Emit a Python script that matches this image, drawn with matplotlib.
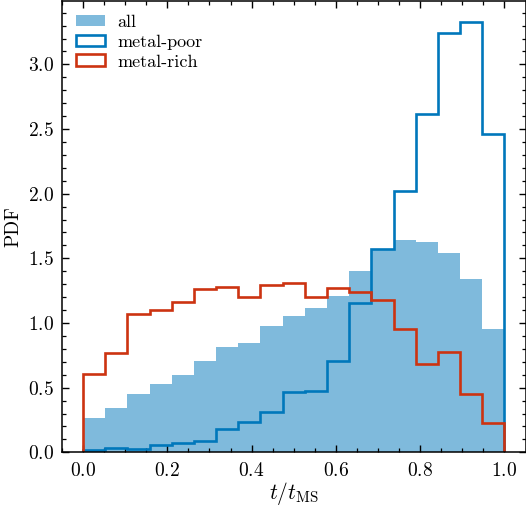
import matplotlib
matplotlib.use("Agg")
import matplotlib.pyplot as plt
import numpy as np
from matplotlib.ticker import MultipleLocator

# ── Data (density per bin, 19 equal bins over t/t_MS in [0, 1]) ──────────────
bin_edges = np.linspace(0.0, 1.0, 20)

pdf_all = [0.269, 0.339, 0.450, 0.532, 0.594, 0.708, 0.813, 0.847, 0.978, 1.053,
           1.118, 1.210, 1.401, 1.570, 1.638, 1.625, 1.543, 1.339, 0.950]
pdf_metal_poor = [0.014, 0.037, 0.022, 0.056, 0.071, 0.084, 0.184, 0.233, 0.313, 0.468,
                  0.476, 0.708, 1.154, 1.574, 2.017, 2.616, 3.242, 3.324, 2.461]
pdf_metal_rich = [0.605, 0.770, 1.071, 1.100, 1.164, 1.262, 1.277, 1.203, 1.295, 1.313,
                  1.203, 1.272, 1.236, 1.177, 0.953, 0.682, 0.772, 0.450, 0.228]

labels = ["all", "metal-poor", "metal-rich"]
BLUE = "#0077BB"
RED = "#CC3311"

# ── Style ─────────────────────────────────────────────────────────────────────
plt.rcParams.update({
    "font.family": "serif",
    "font.serif": ["cmr10"],
    "mathtext.fontset": "cm",
    "axes.formatter.use_mathtext": True,
    "font.size": 14,
    "axes.linewidth": 1.1,
    "xtick.direction": "in",
    "ytick.direction": "in",
    "xtick.top": True,
    "ytick.right": True,
    "xtick.major.size": 5,
    "ytick.major.size": 5,
    "xtick.minor.size": 2.8,
    "ytick.minor.size": 2.8,
    "xtick.major.width": 1.0,
    "ytick.major.width": 1.0,
    "xtick.minor.width": 0.9,
    "ytick.minor.width": 0.9,
    "xtick.major.pad": 7,
    "ytick.major.pad": 6,
})

fig = plt.figure(figsize=(5.26, 5.08), dpi=100)
ax = fig.add_axes([62 / 526, 1 - 452.3 / 508, (525.5 - 62) / 526, (452.3 - 1) / 508])

centres = bin_edges[:-1]
ax.hist(centres, bins=bin_edges, weights=pdf_all, histtype="stepfilled",
        color=BLUE, alpha=0.5, lw=0, label=labels[0])
ax.hist(centres, bins=bin_edges, weights=pdf_metal_poor, histtype="step",
        color=BLUE, lw=1.9, label=labels[1])
ax.hist(centres, bins=bin_edges, weights=pdf_metal_rich, histtype="step",
        color=RED, lw=1.9, label=labels[2])

ax.set_xlim(-0.05, 1.05)
ax.set_ylim(0, 3.49)
ax.xaxis.set_major_locator(MultipleLocator(0.2))
ax.xaxis.set_minor_locator(MultipleLocator(0.05))
ax.yaxis.set_major_locator(MultipleLocator(0.5))
ax.yaxis.set_minor_locator(MultipleLocator(0.1))

ax.set_xlabel(r"$t/t_{\rm MS}$", fontsize=15.5, labelpad=0)
ax.set_ylabel("PDF", labelpad=4)

ax.legend(loc="upper left", frameon=False, fontsize=13, handlelength=1.65,
          handleheight=0.6, handletextpad=0.65, borderaxespad=0.35,
          labelspacing=0.25)

fig.savefig("out.png", dpi=100)
